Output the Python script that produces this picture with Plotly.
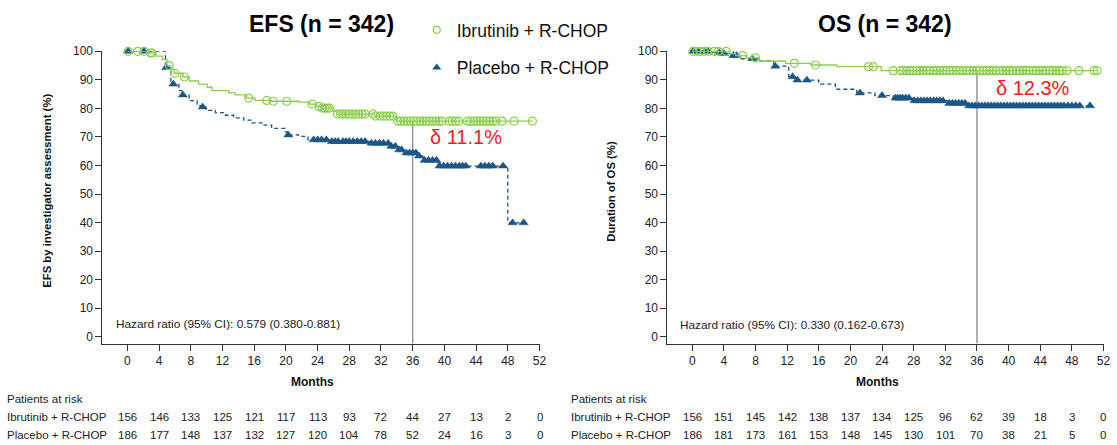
import numpy as np
import plotly.graph_objects as go

W, H = 1117, 445
GREEN = "#8ccf4d"
BLUE = "#1c5687"
FONT = "Liberation Sans, Arial, sans-serif"

# ---------------- data ----------------
months_ticks = [0, 4, 8, 12, 16, 20, 24, 28, 32, 36, 40, 44, 48, 52]

# EFS - Ibrutinib + R-CHOP
efs_ibr_t = [0, 2.6, 3.6, 4.4, 5.0, 5.5, 5.9, 7.0, 7.8, 9.0, 10.1, 10.7, 12.8, 13.6, 15.0, 16.1, 18.0,
             21.6, 23.0, 23.9, 24.5, 26.0, 26.4, 31.2, 33.9]
efs_ibr_s = [100, 99.4, 98.3, 97.1, 95.0, 93.6, 92.3, 91.0, 89.6, 88.5, 87.4, 86.2, 85.4, 84.7, 83.6, 82.8, 82.5,
             82.2, 81.5, 80.7, 80.1, 79.0, 78.0, 77.3, 75.5]
efs_ibr_end = 51.1
efs_ibr_cens = [0.1, 1.3, 2.1, 2.9, 3.1, 5.3, 6.0, 7.2, 15.3, 17.6, 18.4, 20.1, 23.3, 24.2, 24.6, 24.9, 25.2,
                25.5, 26.5, 26.9, 27.2, 27.6, 28.0, 28.4, 28.8, 29.2, 29.6, 30.0, 31.0, 31.3, 31.9, 32.3, 32.7,
                33.1, 33.5, 34.1, 34.5, 34.9, 35.3, 35.7, 36.1, 36.5, 36.9, 37.3, 37.7, 38.1, 38.5, 38.9, 39.3,
                39.7, 40.6, 41.0, 41.4, 41.8, 42.9, 43.3, 43.7, 44.1, 44.5, 44.9, 45.3, 45.7, 46.1, 46.5, 47.3,
                48.8, 51.1]

# EFS - Placebo + R-CHOP
efs_pla_t = [0, 4.8, 5.5, 6.5, 6.9, 7.8, 8.8, 9.3, 9.9, 11.1, 12.4, 13.4, 14.7, 15.7, 17.0, 18.2, 19.9, 20.2,
             21.6, 22.8, 25.6, 30.5, 33.1, 34.1, 34.9, 36.6, 37.3, 39.2, 48.0]
efs_pla_s = [100, 94.3, 88.5, 86.2, 84.7, 82.7, 81.0, 80.5, 79.3, 78.5, 77.6, 76.7, 75.9, 74.9, 74.1, 73.0, 71.8,
             70.7, 70.2, 69.0, 68.4, 67.8, 66.7, 65.5, 64.4, 63.3, 61.8, 59.8, 39.9]
efs_pla_end = 50.0
efs_pla_cens = [0.1, 2.1, 4.9, 5.8, 7.0, 9.5, 20.3, 23.5, 24.0, 24.5, 25.1, 25.8, 26.2, 26.6, 27.2, 27.6, 28.0,
                28.5, 29.0, 29.5, 30.0, 30.8, 31.3, 31.8, 32.3, 32.9, 33.3, 33.8, 34.3, 34.6, 35.2, 35.6, 36.0,
                36.4, 36.8, 37.5, 38.0, 38.5, 39.0, 39.4, 39.9, 40.4, 40.9, 41.4, 41.9, 42.3, 42.7, 44.6, 45.1,
                45.6, 46.1, 47.4, 48.6, 50.0]

# OS - Ibrutinib + R-CHOP
os_ibr_t = [0, 4.7, 5.5, 6.8, 8.5, 11.8, 15.0, 18.3, 23.9]
os_ibr_s = [100, 99.2, 98.5, 97.7, 96.6, 95.8, 95.2, 94.6, 93.2]
os_ibr_end = 51.2
os_ibr_cens = [0.1, 0.6, 1.0, 1.5, 2.0, 2.8, 3.3, 4.3, 6.4, 8.0, 12.9, 15.6, 22.3, 22.9, 25.4, 26.3, 26.7, 27.1,
               27.5, 27.9, 28.4, 28.8, 29.2, 29.6, 30.0, 30.5, 30.9, 31.3, 31.7, 32.1, 32.6, 33.0, 33.4, 33.8,
               34.2, 34.7, 35.1, 35.5, 35.9, 36.3, 36.8, 37.2, 37.6, 38.0, 38.4, 38.9, 39.3, 39.7, 40.1, 40.5,
               41.0, 41.4, 41.8, 42.2, 42.6, 43.1, 43.5, 43.9, 44.3, 44.7, 45.2, 45.6, 46.0, 46.4, 46.8, 47.4,
               48.9, 50.8, 51.2]

# OS - Placebo + R-CHOP
os_pla_t = [0, 2.5, 3.6, 4.9, 6.1, 8.3, 10.3, 12.2, 13.0, 16.0, 18.1, 20.8, 23.1, 25.4, 27.9, 32.3, 34.8]
os_pla_s = [100, 99.6, 99.2, 98.5, 97.4, 96.6, 94.8, 91.1, 89.9, 88.5, 86.7, 85.4, 84.5, 83.6, 82.7, 81.8, 80.9]
os_pla_end = 50.3
os_pla_cens = [0.1, 0.8, 1.6, 2.0, 3.4, 4.0, 5.2, 5.6, 7.6, 10.5, 12.7, 13.3, 14.5, 21.2, 24.0, 25.7, 26.0, 26.3,
               26.6, 27.0, 27.4, 28.1, 28.5, 28.9, 29.3, 29.7, 30.1, 30.5, 30.9, 31.3, 31.7, 32.5, 32.9, 33.3,
               33.7, 34.1, 34.5, 35.0, 35.4, 35.8, 36.2, 36.6, 37.0, 37.4, 37.8, 38.2, 38.6, 39.0, 39.4, 39.8,
               40.2, 40.6, 41.0, 41.4, 41.8, 42.2, 42.6, 43.0, 43.4, 43.8, 44.2, 44.6, 45.0, 45.4, 45.8, 46.2,
               46.6, 47.0, 47.5, 48.0, 48.5, 49.0, 50.3]

# at-risk tables
efs_risk_ibr = [156, 146, 133, 125, 121, 117, 113, 93, 72, 44, 27, 13, 2, 0]
efs_risk_pla = [186, 177, 148, 137, 132, 127, 120, 104, 78, 52, 24, 16, 3, 0]
os_risk_ibr = [156, 151, 145, 142, 138, 137, 134, 125, 96, 62, 39, 18, 3, 0]
os_risk_pla = [186, 181, 173, 161, 153, 148, 145, 130, 101, 70, 38, 21, 5, 0]

landmark = 36
efs_delta = "δ 11.1%"
os_delta = "δ 12.3%"
efs_hr = "Hazard ratio (95% CI): 0.579 (0.380-0.881)"
os_hr = "Hazard ratio (95% CI): 0.330 (0.162-0.673)"

ARM_IBR = "Ibrutinib + R-CHOP"
ARM_PLA = "Placebo + R-CHOP"


def step_at(t_list, s_list, x):
    idx = np.searchsorted(np.array(t_list), np.array(x), side="right") - 1
    return list(np.array(s_list)[idx])


fig = go.Figure()


def add_arm(t, s, end, cens, xa, ya, color, dash, symbol, msize, mline):
    fig.add_trace(go.Scatter(x=list(t) + [end], y=list(s) + [s[-1]], mode="lines",
                             line=dict(shape="hv", color=color, width=1.3, dash=dash),
                             xaxis=xa, yaxis=ya, showlegend=False, hoverinfo="skip", cliponaxis=False))
    fig.add_trace(go.Scatter(x=cens, y=step_at(t, s, cens), mode="markers",
                             marker=dict(symbol=symbol, size=msize, color=color,
                                         line=dict(color=color, width=mline)),
                             xaxis=xa, yaxis=ya, showlegend=False, hoverinfo="skip", cliponaxis=False))


def add_landmark(t, s, xa, ya):
    top = step_at(t, s, [landmark])[0]
    fig.add_trace(go.Scatter(x=[landmark, landmark], y=[-2.4, top], mode="lines",
                             line=dict(color="#8a8a8a", width=1.3), xaxis=xa, yaxis=ya,
                             showlegend=False, hoverinfo="skip", cliponaxis=False))


add_landmark(efs_ibr_t, efs_ibr_s, "x", "y")
add_landmark(os_ibr_t, os_ibr_s, "x2", "y2")
add_arm(efs_pla_t, efs_pla_s, efs_pla_end, efs_pla_cens, "x", "y", BLUE, "4px,3px", "triangle-up", 8, 0.5)
add_arm(efs_ibr_t, efs_ibr_s, efs_ibr_end, efs_ibr_cens, "x", "y", GREEN, "solid", "circle-open", 8, 1.2)
add_arm(os_pla_t, os_pla_s, os_pla_end, os_pla_cens, "x2", "y2", BLUE, "4px,3px", "triangle-up", 8, 0.5)
add_arm(os_ibr_t, os_ibr_s, os_ibr_end, os_ibr_cens, "x2", "y2", GREEN, "solid", "circle-open", 8, 1.2)

# legend-only traces
fig.add_trace(go.Scatter(x=[None], y=[None], mode="markers", name=ARM_IBR, legendgroup="a",
                         marker=dict(symbol="circle-open", size=7, color=GREEN, line=dict(width=1.2))))
fig.add_trace(go.Scatter(x=[None], y=[None], mode="markers", name=ARM_PLA, legendgroup="b",
                         marker=dict(symbol="triangle-up", size=8, color=BLUE)))


def px_x(p):
    return p / W


def px_y(p):
    return 1 - p / H


XR = [-3.14, 52.07]
YR = [-2.41, 100]
ydom = [px_y(342), px_y(45)]

axis_common = dict(showline=True, linecolor="#333", linewidth=1, ticks="outside", ticklen=6,
                   tickcolor="#333", tickfont=dict(size=12, color="#222", family=FONT),
                   showgrid=False, zeroline=False, mirror=False)

fig.update_layout(
    width=W, height=H, margin=dict(l=0, r=0, t=0, b=0),
    paper_bgcolor="white", plot_bgcolor="white",
    font=dict(family=FONT, color="#111"),
    xaxis=dict(domain=[px_x(103), px_x(543)], range=XR, tickvals=months_ticks, anchor="y", **axis_common),
    yaxis=dict(domain=ydom, range=YR, tickvals=list(range(0, 101, 10)), anchor="x", **axis_common),
    xaxis2=dict(domain=[px_x(671), px_x(1110)], range=XR, tickvals=months_ticks, anchor="y2", **axis_common),
    yaxis2=dict(domain=ydom, range=YR, tickvals=list(range(0, 101, 10)), anchor="x2", **axis_common),
    showlegend=True,
    legend=dict(x=px_x(419), y=px_y(5), xanchor="left", yanchor="top", bgcolor="rgba(0,0,0,0)",
                font=dict(size=17.5, color="#111", family=FONT), tracegroupgap=12,
                itemsizing="trace"),
)

ann = []
# titles
ann.append(dict(text="<b>EFS (n = 342)</b>", x=px_x(323), y=px_y(17), xref="paper", yref="paper",
                showarrow=False, font=dict(size=23, color="#000"), xanchor="center", yanchor="middle"))
ann.append(dict(text="<b>OS (n = 342)</b>", x=px_x(890), y=px_y(17), xref="paper", yref="paper",
                showarrow=False, font=dict(size=23, color="#000"), xanchor="center", yanchor="middle"))
# axis titles
ann.append(dict(text="<b>EFS by investigator assessment (%)</b>", x=px_x(47), y=px_y(187), xref="paper",
                yref="paper", showarrow=False, textangle=-90, font=dict(size=11.3, color="#111"),
                xanchor="center", yanchor="middle"))
ann.append(dict(text="<b>Duration of OS (%)</b>", x=px_x(614), y=px_y(187), xref="paper",
                yref="paper", showarrow=False, textangle=-90, font=dict(size=11.3, color="#111"),
                xanchor="center", yanchor="middle"))
ann.append(dict(text="<b>Months</b>", x=px_x(314), y=px_y(381), xref="paper", yref="paper",
                showarrow=False, font=dict(size=12, color="#111"), xanchor="center", yanchor="middle"))
ann.append(dict(text="<b>Months</b>", x=px_x(882), y=px_y(381), xref="paper", yref="paper",
                showarrow=False, font=dict(size=12, color="#111"), xanchor="center", yanchor="middle"))
# hazard ratios
ann.append(dict(text=efs_hr, x=px_x(115), y=px_y(322), xref="paper", yref="paper", showarrow=False,
                font=dict(size=11.8, color="#222"), xanchor="left", yanchor="middle"))
ann.append(dict(text=os_hr, x=px_x(682), y=px_y(323), xref="paper", yref="paper", showarrow=False,
                font=dict(size=11.8, color="#222"), xanchor="left", yanchor="middle"))
# deltas
ann.append(dict(text=efs_delta, x=px_x(430), y=px_y(132), xref="paper", yref="paper", showarrow=False,
                font=dict(size=20, color="#ff1a1a"), xanchor="left", yanchor="middle"))
ann.append(dict(text=os_delta, x=px_x(999), y=px_y(82), xref="paper", yref="paper", showarrow=False,
                font=dict(size=20, color="#ff1a1a"), xanchor="left", yanchor="middle"))

# at-risk tables
for xa, xl, r1, r2 in [("x", 5, efs_risk_ibr, efs_risk_pla), ("x2", 572, os_risk_ibr, os_risk_pla)]:
    ann.append(dict(text="Patients at risk", x=px_x(xl), y=px_y(398), xref="paper", yref="paper",
                    showarrow=False, font=dict(size=11.5, color="#222"), xanchor="left", yanchor="middle"))
    ann.append(dict(text=ARM_IBR, x=px_x(xl), y=px_y(417), xref="paper", yref="paper",
                    showarrow=False, font=dict(size=11.5, color="#222"), xanchor="left", yanchor="middle"))
    ann.append(dict(text=ARM_PLA, x=px_x(xl), y=px_y(435), xref="paper", yref="paper",
                    showarrow=False, font=dict(size=11.5, color="#222"), xanchor="left", yanchor="middle"))
    for m, a, b in zip(months_ticks, r1, r2):
        ann.append(dict(text=str(a), x=m, y=px_y(417), xref=xa, yref="paper", showarrow=False,
                        font=dict(size=11.5, color="#222"), xanchor="center", yanchor="middle"))
        ann.append(dict(text=str(b), x=m, y=px_y(435), xref=xa, yref="paper", showarrow=False,
                        font=dict(size=11.5, color="#222"), xanchor="center", yanchor="middle"))

fig.update_layout(annotations=ann)
fig.write_html("out.html", config={"displayModeBar": False},
               post_script="document.body.style.margin='0';document.body.style.overflow='hidden';")
